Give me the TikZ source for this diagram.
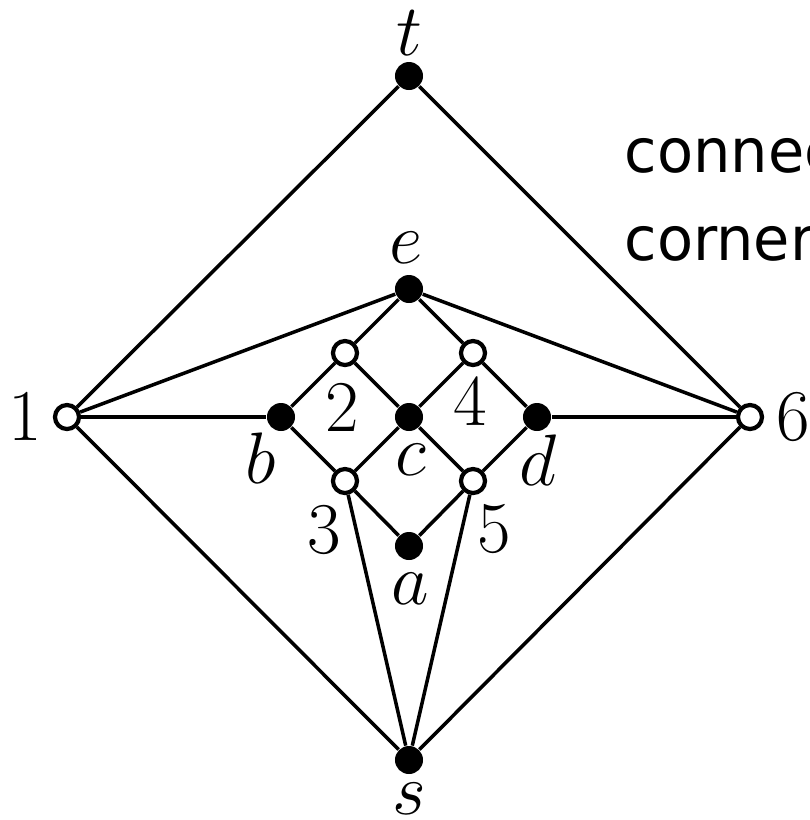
\documentclass[tikz,border=0pt]{standalone}
\usepackage{fontspec}
\newfontfamily\notefont[FakeStretch=0.97]{DejaVu Sans}
\begin{document}
\begin{tikzpicture}[x=0.01cm,y=-0.01cm,
  every node/.style={font=\fontsize{21.6}{26}\selectfont},
  edge/.style={line width=1pt},
  fdot/.style={circle,fill=black,inner sep=0pt,minimum size=0.28cm},
  odot/.style={circle,draw=black,fill=white,line width=1.2pt,inner sep=0pt,minimum size=0.24cm},
  lbl/.style={inner sep=0pt,anchor=center},
  note/.style={inner sep=0pt,anchor=base west,font=\notefont\fontsize{17.3}{21}\selectfont}]
  \useasboundingbox (0,0) rectangle (810,820);

  % vertices
  \node[fdot] (t) at (409,76) {};
  \node[fdot] (e) at (409,289) {};
  \node[odot] (v1) at (67,417) {};
  \node[odot] (v6) at (750,417) {};
  \node[fdot] (s) at (409,760) {};
  \node[odot] (v2) at (345,353) {};
  \node[odot] (v4) at (473,353) {};
  \node[fdot] (b) at (281,417) {};
  \node[fdot] (c) at (409,417) {};
  \node[fdot] (d) at (537,417) {};
  \node[odot] (v3) at (345,481) {};
  \node[odot] (v5) at (473,481) {};
  \node[fdot] (a) at (409,546) {};

  % edges
  \draw[edge] (t) -- (v1);
  \draw[edge] (t) -- (v6);
  \draw[edge] (v1) -- (e);
  \draw[edge] (v1) -- (b);
  \draw[edge] (v1) -- (s);
  \draw[edge] (v6) -- (e);
  \draw[edge] (v6) -- (d);
  \draw[edge] (v6) -- (s);
  \draw[edge] (e) -- (v2);
  \draw[edge] (e) -- (v4);
  \draw[edge] (v2) -- (b);
  \draw[edge] (v2) -- (c);
  \draw[edge] (v4) -- (c);
  \draw[edge] (v4) -- (d);
  \draw[edge] (b) -- (v3);
  \draw[edge] (c) -- (v3);
  \draw[edge] (c) -- (v5);
  \draw[edge] (d) -- (v5);
  \draw[edge] (v3) -- (a);
  \draw[edge] (v5) -- (a);
  \draw[edge] (v3) -- (s);
  \draw[edge] (v5) -- (s);

  % labels
  \node[lbl] (lt) at (409,33) {$t$};
  \node[lbl] (le) at (406,248) {$e$};
  \node[lbl] (l1) at (25,417) {$1$};
  \node[lbl] (l6) at (793,417) {$6$};
  \node[lbl] (ls) at (409,799) {$s$};
  \node[lbl] (l2) at (342,408) {$2$};
  \node[lbl] (l4) at (470,402) {$4$};
  \node[lbl] (lb) at (261,458) {$b$};
  \node[lbl] (lc) at (411,460) {$c$};
  \node[lbl] (ld) at (538,460) {$d$};
  \node[lbl] (l3) at (324,530) {$3$};
  \node[lbl] (l5) at (494,529) {$5$};
  \node[lbl] (la) at (410,589) {$a$};

  % side note
  \node[note] (n1) at (624,172) {connected};
  \node[note] (n2) at (624,260) {corners};
\end{tikzpicture}
\end{document}
